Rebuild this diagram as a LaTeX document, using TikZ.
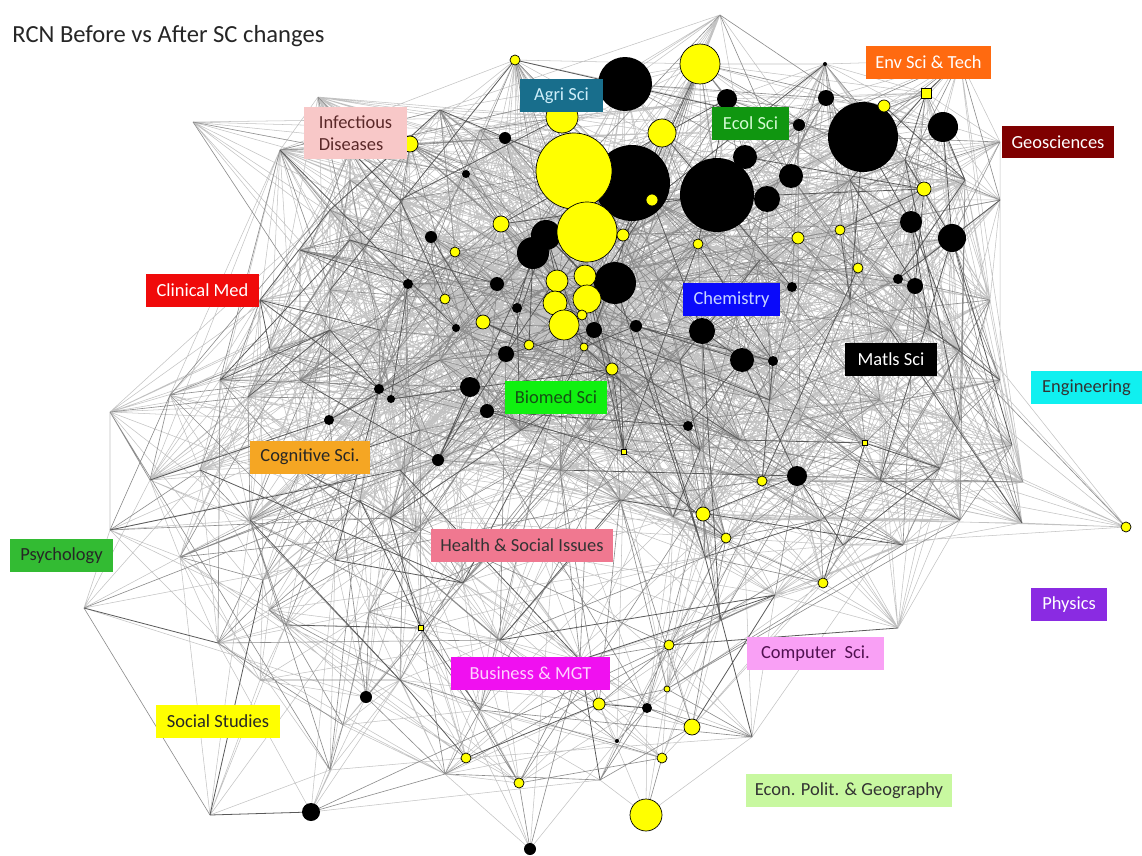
\documentclass[tikz,border=0pt]{standalone}
\usepackage{fontspec}
\setmainfont{Carlito}

\definecolor{dotyellow}{RGB}{255,255,0}
\definecolor{agri}{RGB}{24,110,140}
\definecolor{agritext}{RGB}{205,238,250}
\definecolor{envsci}{RGB}{255,106,16}
\definecolor{infect}{RGB}{248,200,200}
\definecolor{infecttext}{RGB}{90,40,40}
\definecolor{ecol}{RGB}{16,150,16}
\definecolor{ecoltext}{RGB}{210,250,210}
\definecolor{geo}{RGB}{127,0,0}
\definecolor{clinical}{RGB}{240,10,10}
\definecolor{chem}{RGB}{10,10,250}
\definecolor{chemtext}{RGB}{200,215,255}
\definecolor{engin}{RGB}{16,240,240}
\definecolor{biomed}{RGB}{16,240,16}
\definecolor{biomedtext}{RGB}{20,80,20}
\definecolor{cognit}{RGB}{245,166,35}
\definecolor{psych}{RGB}{51,187,51}
\definecolor{health}{RGB}{240,120,144}
\definecolor{physics}{RGB}{138,43,226}
\definecolor{compsci}{RGB}{249,160,245}
\definecolor{compscitext}{RGB}{80,16,80}
\definecolor{business}{RGB}{240,16,240}
\definecolor{businesstext}{RGB}{255,210,255}
\definecolor{social}{RGB}{255,255,0}
\definecolor{econ}{RGB}{200,248,160}

% vertices: id / x px / y px / kind (y yellow, b black, q square, n hidden) / radius px
\def\vtxlist{%
1/515/60/y/5, 2/625/84/b/27, 3/700/64/y/20, 4/562/117/y/16, 5/662/133/y/14,
6/727/99/b/10, 7/505/138/b/6, 8/410/144/y/8, 9/632/183/b/38, 10/574/171/y/38,
11/652/200/y/6, 12/587/232/y/30, 13/717/195/b/37, 14/745/157/b/12, 15/791/176/b/12,
16/767/199/b/13, 17/826/98/b/8, 18/799/125/b/6, 19/863/137/b/35, 20/884/106/y/6,
21/926/93/q/5, 22/943/127/b/15, 23/924/189/y/7, 24/911/222/b/11, 25/952/238/b/14,
26/840/230/y/5, 27/798/238/y/6, 28/698/244/y/5, 29/858/268/y/5, 30/898/279/b/5,
31/915/286/b/8, 32/792/287/b/5, 33/825/64/b/2, 34/546/235/b/15, 35/533/253/b/16,
36/623/235/y/6, 37/501/224/y/8, 38/431/237/b/6, 39/455/252/y/5, 40/557/281/y/11,
41/585/276/y/11, 42/615/283/b/21, 43/587/299/y/14, 44/555/303/y/12, 45/564/325/y/15,
46/582/315/y/5, 47/497/284/b/7, 48/408/284/b/5, 49/445/299/y/5, 50/517/308/b/5,
51/483/322/y/7, 52/456/328/b/4, 53/594/330/b/8, 54/636/326/b/6, 55/529/345/y/5,
56/584/347/y/4, 57/506/354/b/8, 58/612/369/y/6, 59/470/387/b/10, 60/487/411/b/7,
61/702/331/b/13, 62/742/360/b/12, 63/773/361/b/5, 64/391/399/b/4, 65/379/389/b/5,
66/329/420/b/5, 67/438/460/b/6, 68/624/452/q/2.5, 69/688/426/b/5, 70/865/443/q/2.5,
71/797/476/b/10, 72/762/481/y/5, 73/703/514/y/7, 74/726/538/y/5, 75/823/583/y/5,
76/1126/527/y/5, 77/669/645/y/5, 78/667/689/y/3, 79/647/708/b/5, 80/599/704/y/6,
81/692/727/y/8, 82/617/741/b/2, 83/662/758/y/5, 84/646/815/y/16, 85/519/783/y/5,
86/466/758/y/5, 87/366/697/b/6, 88/311/812/b/9, 89/530/849/b/6, 90/421/628/q/2.5,
91/466/174/b/4,
92/193/122/n/0, 93/318/97/n/0, 94/1000/142/n/0, 95/84/608/n/0, 96/180/557/n/0,
97/218/643/n/0, 98/463/583/n/0, 99/416/532/n/0, 100/335/560/n/0, 101/269/610/n/0,
102/286/625/n/0, 103/369/612/n/0, 104/263/580/n/0, 105/390/518/n/0, 106/445/774/n/0,
107/480/710/n/0, 108/343/725/n/0, 109/752/737/n/0, 110/1023/482/n/0, 111/1022/523/n/0,
112/940/468/n/0, 113/903/545/n/0, 114/843/545/n/0, 115/898/628/n/0, 116/775/595/n/0,
117/673/517/n/0, 118/705/557/n/0, 119/1012/445/n/0, 120/248/397/n/0, 121/170/395/n/0,
122/110/412/n/0, 123/210/815/n/0, 124/260/300/n/0, 125/300/250/n/0, 126/330/210/n/0,
127/350/180/n/0, 128/280/150/n/0, 129/400/200/n/0, 130/990/300/n/0, 131/1000/380/n/0,
132/960/420/n/0, 133/880/400/n/0, 134/800/420/n/0, 135/700/450/n/0, 136/620/500/n/0,
137/560/470/n/0, 138/520/430/n/0, 139/150/480/n/0, 140/200/470/n/0, 141/110/530/n/0,
142/300/470/n/0, 143/360/500/n/0, 144/960/350/n/0, 145/880/480/n/0, 146/720/620/n/0,
147/580/660/n/0, 148/500/640/n/0, 149/400/680/n/0, 150/720/15/n/0, 151/620/380/n/0,
152/440/110/n/0, 153/960/60/n/0, 154/1000/200/n/0, 155/890/330/n/0, 156/770/400/n/0,
157/440/360/n/0, 158/330/330/n/0, 159/220/380/n/0, 160/260/680/n/0, 161/330/770/n/0,
162/600/780/n/0, 163/250/520/n/0, 164/350/240/n/0, 165/380/330/n/0, 166/300/380/n/0,
167/420/430/n/0, 168/640/410/n/0, 169/660/280/n/0, 170/760/260/n/0, 171/850/180/n/0,
172/965/180/n/0, 173/930/330/n/0, 174/850/300/n/0, 175/820/520/n/0, 176/680/360/n/0,
177/480/130/n/0, 178/905/160/n/0, 179/400/470/n/0, 180/740/440/n/0, 181/590/430/n/0,
182/330/290/n/0, 183/270/350/n/0, 184/960/520/n/0, 185/350/150/n/0}
\def\nv{185}

\begin{document}
\begin{tikzpicture}[
		x=0.02cm, y=-0.02cm,
		lightedge/.style={black!24,line width=0.3pt},
		midedge/.style={black!45,line width=0.35pt},
		darkedge/.style={black!65,line width=0.45pt},
		ydot/.style={circle,fill=dotyellow,draw=black,line width=0.4pt,inner sep=0pt},
		bdot/.style={circle,fill=black,inner sep=0pt},
		ysq/.style={rectangle,fill=dotyellow,draw=black,line width=0.4pt,inner sep=0pt},
		tag/.style={font=\fontsize{10.5}{12.5}\selectfont,inner sep=0pt,minimum height=0.66cm},
		heading/.style={font=\fontsize{14}{16}\selectfont,text=black!85,inner sep=0pt},
	]

	\fill[white] (0,0) rectangle (1142,855);
	\useasboundingbox (0,0) rectangle (1142,855);

	% ---------- vertices ----------
	\foreach \n/\x/\y/\t/\r in \vtxlist {
		\coordinate (v\n) at (\x,\y);
		\expandafter\xdef\csname vx\n\endcsname{\x}
		\expandafter\xdef\csname vy\n\endcsname{\y}
	}

	% ---------- edges (collected, then drawn) ----------
	\gdef\lightlist{}
	\gdef\midlist{}
	\gdef\darklist{}
	\pgfmathsetseed{4711}
	\foreach \i in {1,...,\nv} {
		\foreach \j in {\i,...,\nv} {
			\ifnum\j>\i
				\edef\dsq{\the\numexpr
					(\csname vx\i\endcsname-\csname vx\j\endcsname)*(\csname vx\i\endcsname-\csname vx\j\endcsname)
					+(\csname vy\i\endcsname-\csname vy\j\endcsname)*(\csname vy\i\endcsname-\csname vy\j\endcsname)\relax}
				\def\up{0}
				\ifnum\csname vy\i\endcsname<540 \ifnum\csname vy\j\endcsname<540 \def\up{1}\fi\fi
				\ifnum\dsq<360000
					\pgfmathrandominteger{\rr}{0}{999}
					\ifnum\dsq<22500 \def\pd{50}\def\pm{200}\def\pl{650}\else
					\ifnum\dsq<90000 \def\pd{10}\def\pm{70}\ifnum\up=1 \def\pl{380}\else\def\pl{200}\fi\else
					\ifnum\dsq<202500 \def\pd{0}\def\pm{15}\ifnum\up=1 \def\pl{130}\else\def\pl{40}\fi\else
						\def\pd{0}\def\pm{0}\ifnum\up=1 \def\pl{25}\else\def\pl{0}\fi\fi\fi\fi
					\ifnum\rr<\pd
						\xdef\darklist{\darklist (v\i) -- (v\j)}
					\else\ifnum\rr<\pm
						\xdef\midlist{\midlist (v\i) -- (v\j)}
					\else\ifnum\rr<\pl
						\xdef\lightlist{\lightlist (v\i) -- (v\j)}
					\fi\fi\fi
				\fi
			\fi
		}
	}
	\edef\drawmesh{\noexpand\draw[lightedge] \lightlist;
		\noexpand\draw[midedge] \midlist;
		\noexpand\draw[darkedge] \darklist;}
	\drawmesh

	% ---------- circles ----------
	\foreach \n/\x/\y/\t/\r in \vtxlist {
		\if\t b \node[bdot,minimum size=\r*0.4mm] (c\n) at (v\n) {}; \fi
	}
	\foreach \n/\x/\y/\t/\r in \vtxlist {
		\if\t y \node[ydot,minimum size=\r*0.4mm] (c\n) at (v\n) {}; \fi
		\if\t q \node[ysq,minimum size=\r*0.4mm] (c\n) at (v\n) {}; \fi
	}

	% ---------- labels ----------
	\node[heading,anchor=base west] (title) at (12,43) {RCN Before vs After SC changes};
	\node[tag,fill=agri,text=agritext,minimum width=1.66cm] (agri) at (561.5,95.5) {Agri Sci};
	\node[tag,fill=envsci,text=white,minimum width=2.5cm] (envsci) at (928.5,62.5) {Env Sci \& Tech};
	\node[tag,fill=infect,text=infecttext,minimum width=2.06cm,minimum height=1.04cm,align=left] (infect) at (355.5,133) {Infectious\\Diseases};
	\node[tag,fill=ecol,text=ecoltext,minimum width=1.54cm] (ecol) at (750.5,123.5) {Ecol Sci};
	\node[tag,fill=geo,text=white,minimum width=2.24cm] (geo) at (1058,142) {Geosciences};
	\node[tag,fill=clinical,text=white,minimum width=2.26cm] (clinical) at (202.5,290.5) {Clinical Med};
	\node[tag,fill=chem,text=chemtext,minimum width=1.94cm] (chem) at (731.5,299.5) {Chemistry};
	\node[tag,fill=black,text=white,minimum width=1.84cm] (matls) at (891,359.5) {Matls Sci};
	\node[tag,fill=engin,text=black!80,minimum width=2.22cm] (engin) at (1086.5,387.5) {Engineering};
	\node[tag,fill=biomed,text=biomedtext,minimum width=2.04cm] (biomed) at (556,397.5) {Biomed Sci};
	\node[tag,fill=cognit,text=black!85,minimum width=2.4cm] (cognit) at (310,457) {Cognitive Sci.};
	\node[tag,fill=psych,text=black!85,minimum width=2.06cm] (psych) at (61.5,555.5) {Psychology};
	\node[tag,fill=health,text=black!80,minimum width=3.64cm] (health) at (522,545.5) {Health \& Social Issues};
	\node[tag,fill=physics,text=white,minimum width=1.52cm] (physics) at (1069,604.5) {Physics};
	\node[tag,fill=compsci,text=compscitext,minimum width=2.74cm] (compsci) at (815.5,653.5) {Computer~ Sci.};
	\node[tag,fill=business,text=businesstext,minimum width=3.18cm] (business) at (530.5,673.5) {Business \& MGT};
	\node[tag,fill=social,text=black!85,minimum width=2.48cm] (social) at (218,721.5) {Social Studies};
	\node[tag,fill=econ,text=black!80,minimum width=4.12cm] (econ) at (849,790.5) {Econ. Polit. \& Geography};

\end{tikzpicture}
\end{document}
